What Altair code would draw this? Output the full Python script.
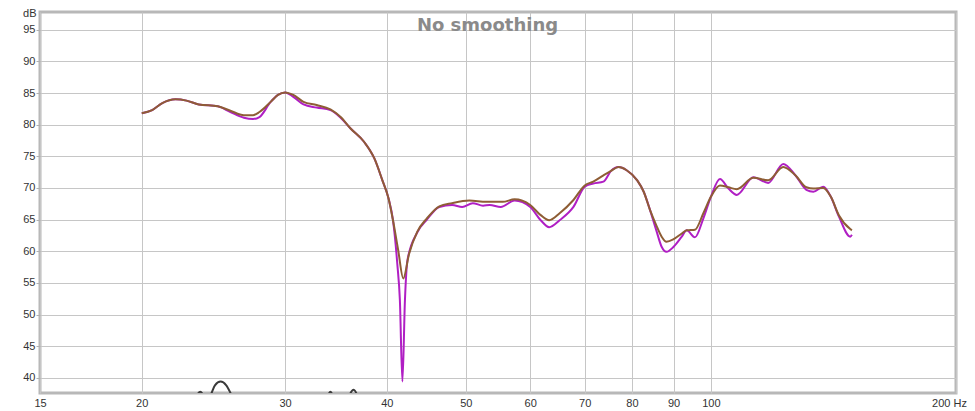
import altair as alt
import pandas as pd

# ---- data ----
freq_purple = [20.0, 20.6, 21.2, 22.0, 22.7, 23.5, 24.8, 25.7, 26.7, 27.4, 27.9, 28.8, 29.4, 30.0,
               30.7, 31.6, 32.8, 34.1, 35.1, 36.1, 37.5, 38.6, 39.5, 40.2, 40.7, 41.2, 41.5, 41.8,
               42.1, 42.4, 43.6, 44.8, 46.4, 48.1, 49.5, 51.0, 52.5, 53.5, 55.2, 57.4, 60.0, 61.8,
               63.3, 65.2, 67.8, 70.0, 71.7, 73.8, 75.4, 77.0, 78.8, 81.2, 82.7, 84.2, 85.7, 87.0,
               88.2, 90.0, 92.1, 93.4, 95.6, 97.9, 100.0, 102.6, 105.1, 107.6, 112.8, 117.6, 122.7,
               127.0, 131.0, 133.6, 137.4, 140.4, 143.6, 148.3, 149.0]
db_purple = [81.8, 82.3, 83.4, 84.0, 83.8, 83.2, 82.9, 82.0, 81.1, 80.9, 81.2, 83.6, 84.7, 85.1,
             84.4, 83.2, 82.7, 82.3, 81.1, 79.4, 77.3, 74.7, 71.2, 68.3, 64.9, 58.0, 52.3, 39.4,
             52.3, 58.6, 63.0, 65.0, 67.0, 67.3, 67.0, 67.6, 67.2, 67.3, 67.0, 68.0, 67.0, 64.9,
             63.8, 64.9, 67.0, 70.2, 70.7, 71.0, 72.7, 73.3, 72.8, 71.2, 69.4, 66.5, 63.3, 60.7,
             59.9, 60.7, 62.3, 63.3, 62.2, 65.2, 68.6, 71.4, 69.9, 68.9, 71.7, 70.8, 73.8,
             72.0, 69.7, 69.4, 70.2, 68.6, 65.5, 62.3, 62.6]

freq_brown = [20.0, 20.6, 21.2, 22.0, 22.7, 23.5, 24.8, 25.7, 26.7, 27.4, 27.9, 28.8, 29.4, 30.0,
              30.7, 31.6, 32.8, 34.1, 35.1, 36.1, 37.5, 38.6, 39.5, 40.2, 40.7, 41.3, 41.9, 42.6,
              43.6, 44.8, 46.4, 48.1, 50.5, 53.0, 55.5, 57.4, 60.0, 61.8, 63.3, 65.2, 67.8, 70.0,
              71.7, 73.8, 75.4, 77.0, 78.8, 81.2, 82.7, 84.2, 85.7, 87.0, 88.2, 90.0, 92.1, 93.4,
              95.6, 97.9, 100.0, 102.6, 105.1, 107.6, 112.8, 117.6, 122.7, 127.0, 131.0, 133.6,
              137.4, 140.4, 143.6, 148.3, 149.0]
db_brown = [81.8, 82.3, 83.4, 84.0, 83.8, 83.2, 82.9, 82.2, 81.5, 81.5, 82.0, 83.6, 84.7, 85.1,
            84.7, 83.6, 83.1, 82.4, 81.2, 79.4, 77.3, 74.7, 71.2, 68.3, 64.9, 60.2, 55.7, 59.6,
            63.1, 65.2, 67.1, 67.6, 68.0, 67.8, 67.8, 68.2, 67.3, 65.7, 64.9, 66.0, 68.1, 70.4,
            71.0, 72.0, 72.7, 73.3, 72.8, 71.2, 69.4, 66.5, 64.1, 62.3, 61.5, 61.9, 62.8, 63.3,
            63.4, 66.0, 68.6, 70.4, 70.1, 69.8, 71.6, 71.2, 73.3, 72.0, 70.1, 69.9,
            70.0, 68.6, 65.7, 63.5, 63.3]

freq_dark = [23.2, 23.6, 24.0, 24.3, 24.6, 25.0, 25.4, 25.8, 26.2,
             33.6, 34.1, 34.6, 35.8, 36.4, 37.0]
db_dark = [36.5, 37.8, 36.8, 37.3, 38.8, 39.4, 38.8, 37.2, 35.5,
           36.5, 37.8, 36.5, 37.0, 38.1, 36.5]

x_ticks = [15, 20, 30, 40, 50, 60, 70, 80, 90, 100, 200]
y_ticks = [40, 45, 50, 55, 60, 65, 70, 75, 80, 85, 90, 95]
chart_title = "No smoothing"

df_p = pd.DataFrame({"f": freq_purple, "db": db_purple})
df_b = pd.DataFrame({"f": freq_brown, "db": db_brown})
df_d = pd.DataFrame({"f": freq_dark, "db": db_dark})
df_t = pd.DataFrame({"label": [chart_title]})

LABEL_FONT = "Liberation Sans"
TITLE_FONT = "DejaVu Sans"
GRID = "#c6c6c6"

x_enc = alt.X(
    "f:Q",
    scale=alt.Scale(type="log", domain=[15, 200], nice=False),
    axis=alt.Axis(
        values=x_ticks, title=None, ticks=False, domain=False,
        labelFont=LABEL_FONT, labelFontSize=11, labelColor="#333333", labelPadding=4,
        labelExpr="datum.value == 200 ? '200 Hz' : datum.label",
        labelOffset={"condition": {"test": "datum.value == 200", "value": -7}, "value": 0},
        labelFlush=False, labelOverlap=False,
        gridColor=GRID, gridWidth=1,
    ),
)
y_enc = alt.Y(
    "db:Q",
    scale=alt.Scale(domain=[37.6, 97.8], nice=False, zero=False),
    axis=alt.Axis(
        values=y_ticks, title="dB", domain=False,
        ticks=True, tickSize=4, tickColor="#b0b0b0", tickWidth=1,
        labelFont=LABEL_FONT, labelFontSize=11, labelColor="#333333", labelPadding=1,
        labelOverlap=False, labelFlush=False,
        titleAngle=0, titleAlign="right", titleBaseline="alphabetic",
        titleX=-4, titleY=4, titleFont=LABEL_FONT, titleFontSize=11,
        titleFontWeight="normal", titleColor="#333333",
        gridColor=GRID, gridWidth=1,
    ),
)

purple = alt.Chart(df_p).mark_line(
    color="#b01fc4", strokeWidth=2, interpolate="monotone", clip=True
).encode(x=x_enc, y=y_enc)

brown = alt.Chart(df_b).mark_line(
    color="#8e5d35", strokeWidth=2, interpolate="monotone", clip=True
).encode(x=x_enc, y=y_enc)

dark = alt.Chart(df_d).mark_line(
    color="#3a3a3a", strokeWidth=2, interpolate="monotone", clip=True
).encode(x=x_enc, y=y_enc)

title = alt.Chart(df_t).mark_text(
    font=TITLE_FONT, fontSize=18, fontWeight="bold", color="#8a8a8a",
    align="center", baseline="alphabetic",
).encode(text="label:N", x=alt.value(447.5), y=alt.value(18.5))

chart = alt.layer(purple, brown, dark, title).properties(
    width=916, height=381,
    padding={"left": 32, "top": 4, "right": 11, "bottom": 18},
    autosize=alt.AutoSizeParams(type="none"),
).configure(
    background="white",
    view=alt.ViewConfig(stroke="#b8b8b8", strokeWidth=3),
)

chart.save("out.html", embed_options={"renderer": "svg", "actions": False})
